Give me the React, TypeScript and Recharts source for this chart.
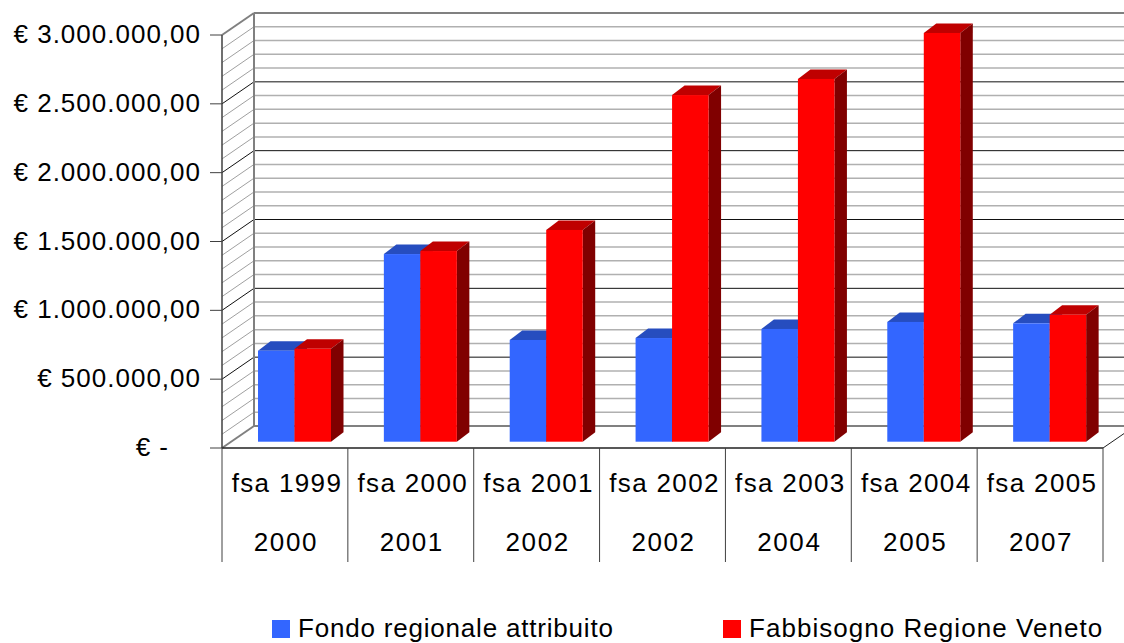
import { BarChart, Bar, XAxis, YAxis, CartesianGrid, Legend } from "recharts";

const fsaLabels = ["fsa 1999", "fsa 2000", "fsa 2001", "fsa 2002", "fsa 2003", "fsa 2004", "fsa 2005"];
const yearLabels = ["2000", "2001", "2002", "2002", "2004", "2005", "2007"];
const fondo = [661000, 1363000, 739000, 753000, 819000, 870000, 860000];
const fabbisogno = [675000, 1385000, 1538000, 2518000, 2635000, 2969000, 922000];
const yTicks = [0, 500000, 1000000, 1500000, 2000000, 2500000, 3000000];
const yTickLabels = ["€ -", "€ 500.000,00", "€ 1.000.000,00", "€ 1.500.000,00", "€ 2.000.000,00", "€ 2.500.000,00", "€ 3.000.000,00"];
const minorValues = [
  100000, 200000, 300000, 400000, 600000, 700000, 800000, 900000, 1100000, 1200000, 1300000, 1400000, 1600000,
  1700000, 1800000, 1900000, 2100000, 2200000, 2300000, 2400000, 2600000, 2700000, 2800000, 2900000,
];
const majorValues = [500000, 1000000, 1500000, 2000000, 2500000];
const frameValues = [0, 3000000];

const data = fsaLabels.map((fsa, i) => ({
  fsa,
  year: yearLabels[i],
  fondo: fondo[i],
  fabbisogno: fabbisogno[i],
}));

const FONT = "'Liberation Sans', Arial, sans-serif";
const WALL_DX = 32;
const WALL_DY = -22;
const BAR_SHIFT_X = 10;
const BAR_SHIFT_Y = -6.3;
const DEPTH_X = 12.5;
const DEPTH_Y = -9.5;
const BAND = 881 / 7;

const wallLine = (stroke: string, width: number, diagStroke: string, diagWidth: number) => (p: any) => (
  <g key={p.key}>
    <line x1={p.x1} y1={p.y1} x2={p.x1 + WALL_DX} y2={p.y1 + WALL_DY} stroke={diagStroke} strokeWidth={diagWidth} />
    <line x1={p.x1 + WALL_DX} y1={p.y1 + WALL_DY} x2={p.x2 + WALL_DX} y2={p.y1 + WALL_DY} stroke={stroke} strokeWidth={width} />
  </g>
);

// top and bottom of the walls, plus back corner and floor edge
const frameLine = (p: any) => {
  const isFloor = p.y1 > 300;
  return (
    <g key={p.key}>
      {wallLine("#808080", 2, "#808080", 2)(p)}
      {isFloor && (
        <>
          <line x1={p.x1 + WALL_DX} y1={p.y1 + WALL_DY} x2={p.x1 + WALL_DX} y2={35 + WALL_DY} stroke="#808080" strokeWidth={2} />
          <line x1={p.x2} y1={p.y1} x2={p.x2 + WALL_DX} y2={p.y1 + WALL_DY} stroke="#202020" strokeWidth={1} />
        </>
      )}
    </g>
  );
};

const Bar3D = (p: any) => {
  const x = p.x + BAR_SHIFT_X;
  const y = p.y + BAR_SHIFT_Y;
  const { width: w, height: h } = p;
  const isRed = p.dataKey === "fabbisogno";
  const topFill = isRed ? "#bf0000" : "#264dbf";
  const sideFill = isRed ? "#800000" : "#1a3380";
  return (
    <g>
      <polygon
        points={`${x},${y} ${x + DEPTH_X},${y + DEPTH_Y} ${x + w + DEPTH_X},${y + DEPTH_Y} ${x + w},${y}`}
        fill={topFill}
      />
      <polygon
        points={`${x + w},${y} ${x + w + DEPTH_X},${y + DEPTH_Y} ${x + w + DEPTH_X},${y + h + DEPTH_Y} ${x + w},${y + h}`}
        fill={sideFill}
      />
      <rect x={x} y={y} width={w} height={h} fill={p.fill} />
    </g>
  );
};

const YTick = (p: any) => {
  const i = yTicks.indexOf(p.payload.value);
  return (
    <text
      x={i === 0 ? 169 : 201}
      y={p.y - 1}
      textAnchor="end"
      dominantBaseline="central"
      fontFamily={FONT}
      fontSize={26}
      letterSpacing={1}
      fill="#000"
    >
      {yTickLabels[i]}
    </text>
  );
};

const XTick = (p: any) => {
  const i = p.index;
  const left = p.x - BAND / 2;
  const right = p.x + BAND / 2;
  const text = { textAnchor: "middle" as const, fontFamily: FONT, fontSize: 26, fill: "#000" };
  return (
    <g>
      <line x1={left} y1={448} x2={left} y2={562} stroke="#404040" strokeWidth={1} />
      {i === fsaLabels.length - 1 && <line x1={right} y1={448} x2={right} y2={562} stroke="#404040" strokeWidth={1} />}
      <text x={p.x + 2} y={492} letterSpacing={1.35} {...text}>
        {p.payload.value}
      </text>
      <text x={p.x + 1} y={551} letterSpacing={1.6} {...text}>
        {yearLabels[i]}
      </text>
    </g>
  );
};

const LegendContent = ({ payload }: any) => (
  <div style={{ display: "flex", fontFamily: FONT, fontSize: 26, color: "#000" }}>
    {(payload ?? []).map((entry: any, i: number) => (
      <div
        key={entry.value}
        style={{
          display: "flex",
          alignItems: "center",
          width: i === 0 ? 451 : 400,
          whiteSpace: "nowrap",
          letterSpacing: i === 0 ? 0.8 : 1.04,
        }}
      >
        <span style={{ width: 18, height: 18, background: entry.color, marginRight: 8, flex: "none" }} />
        {entry.value}
      </div>
    ))}
  </div>
);

export default function App() {
  return (
    <div style={{ width: 1124, height: 643, overflow: "hidden", background: "#fff" }}>
      <style>{"body { margin: 0; }"}</style>
      <BarChart
        width={1124}
        height={643}
        data={data}
        margin={{ top: 35, right: 21, bottom: 80, left: 0 }}
        barSize={36.5}
        barGap={0}
      >
        <CartesianGrid vertical={false} horizontalValues={minorValues} horizontal={wallLine("#b0b0b0", 1.5, "#a0a0a0", 1)} />
        <CartesianGrid vertical={false} horizontalValues={majorValues} horizontal={wallLine("#111", 1, "#111", 1)} />
        <CartesianGrid vertical={false} horizontalValues={frameValues} horizontal={frameLine} />
        <XAxis
          dataKey="fsa"
          height={115}
          interval={0}
          tickLine={false}
          axisLine={{ stroke: "#202020", strokeWidth: 1.5 }}
          tick={XTick}
        />
        <YAxis
          width={222}
          domain={[0, 3000000]}
          ticks={yTicks}
          interval={0}
          tickSize={12}
          tickLine={{ stroke: "#404040" }}
          axisLine={{ stroke: "#404040", strokeWidth: 1.5 }}
          tick={YTick}
        />
        <Legend
          layout="horizontal"
          verticalAlign="middle"
          align="center"
          itemSorter={null}
          wrapperStyle={{ top: 613, left: 272, width: 852 }}
          content={LegendContent}
        />
        <Bar dataKey="fondo" name="Fondo regionale attribuito" fill="#3366ff" isAnimationActive={false} shape={Bar3D} />
        <Bar dataKey="fabbisogno" name="Fabbisogno Regione Veneto" fill="#ff0000" isAnimationActive={false} shape={Bar3D} />
      </BarChart>
    </div>
  );
}
